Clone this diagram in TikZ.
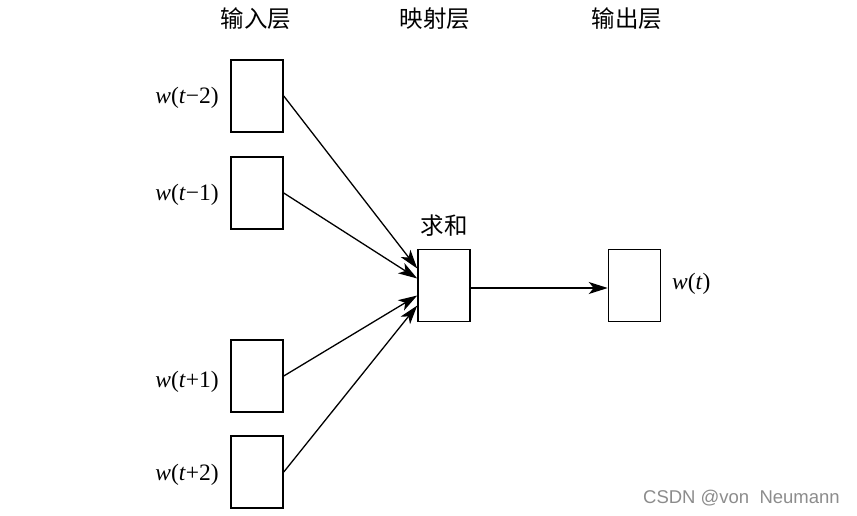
\documentclass[tikz,border=0pt]{standalone}
\usepackage{fontspec}
\setmainfont{Liberation Serif}
\newfontfamily\cjk{Noto Sans CJK SC}
\newfontfamily\wmfont{Liberation Sans}
\usetikzlibrary{arrows.meta}
\tikzset{
  box/.style={draw, line width=1.5pt, minimum width=52pt, minimum height=72pt, inner sep=0pt},
  arr/.style={line width=1.3pt, -{Stealth[length=19pt,width=12pt,inset=5pt]}},
  lab/.style={font=\fontsize{23.5}{23.5}\selectfont, inner sep=0pt},
  head/.style={font=\cjk\fontsize{23.5}{23.5}\selectfont, inner sep=0pt},
}
\begin{document}
\begin{tikzpicture}[x=1pt,y=-1pt]
\useasboundingbox (0,0) rectangle (857,515);
% input boxes
\node[box] (i1) at (257,96) {};
\node[box] (i2) at (257,193) {};
\node[box] (i3) at (257,376) {};
\node[box] (i4) at (257,472) {};
% sum and output
\node[box] (s) at (444,285.5) {};
\node[box] (o) at (634.5,285.5) {};
% headings
\node[head] (h1) at (256,19) {输入层};
\node[head] (h2) at (435,19) {映射层};
\node[head] (h3) at (627,19) {输出层};
\node[head] (sum) at (444,226) {求和};
% labels
\node[lab, anchor=east] (l1) at (219,98) {\textit{w}(\textit{t}−2)};
\node[lab, anchor=east] (l2) at (219,195) {\textit{w}(\textit{t}−1)};
\node[lab, anchor=east] (l3) at (219,382) {\textit{w}(\textit{t}+1)};
\node[lab, anchor=east] (l4) at (219,475) {\textit{w}(\textit{t}+2)};
\node[lab, anchor=west] (lo) at (672,284) {\textit{w}(\textit{t})};
% arrows
\draw[arr] (i1.east) -- ([yshift=17pt]s.west);
\draw[arr] (i2.east) -- ([yshift=7pt]s.west);
\draw[arr] (i3.east) -- ([yshift=-10pt]s.west);
\draw[arr] (i4.east) -- ([yshift=-20pt]s.west);
\draw[arr] ([yshift=-2.5pt]s.east) -- ([yshift=-2.5pt]o.west);
% watermark
\node[font=\wmfont\fontsize{18.5}{18.5}\selectfont, text=black!45, anchor=east, inner sep=0pt] (wm) at (840,498) {CSDN @von\ \ Neumann};
\end{tikzpicture}
\end{document}
